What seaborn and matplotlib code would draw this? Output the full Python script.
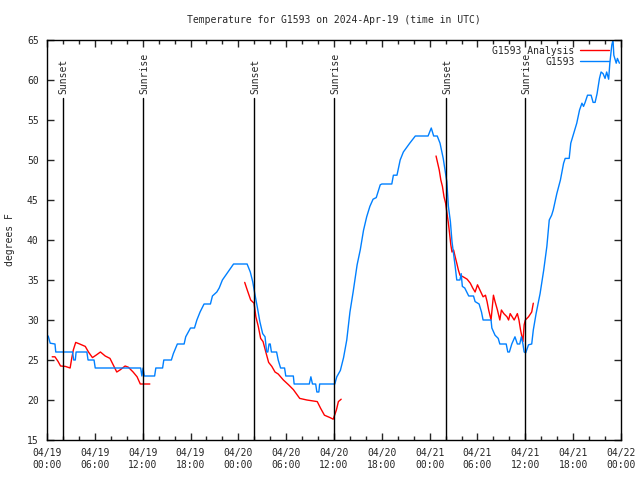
import matplotlib
matplotlib.use("Agg")
import matplotlib.pyplot as plt
import seaborn as sns
import pandas as pd

# hours since 04/19 00:00 UTC
obs_hours = [0.15, 0.4, 1.0, 1.1, 3.2, 3.35, 3.55, 3.65, 5.0, 5.15, 5.9, 6.05, 11.75, 11.9, 12.05,
             12.2, 13.5, 13.65, 14.5, 14.65, 15.6, 15.85, 16.35, 17.2, 17.4, 18.0, 18.5, 18.8, 19.2,
             19.7, 20.5, 20.75, 21.3, 21.6, 22.0, 22.7, 23.4, 25.1, 25.5, 25.8, 26.1, 26.4, 26.7,
             27.05, 27.35, 27.55, 27.7, 27.85, 28.0, 28.15, 28.8, 29.0, 29.3, 29.8, 29.95, 30.9,
             31.0, 32.9, 33.1, 33.3, 33.7, 33.85, 34.1, 34.2, 36.1, 36.35, 36.8, 37.2, 37.6, 38.0,
             38.4, 38.9, 39.3, 39.7, 40.1, 40.5, 40.9, 41.3, 41.8, 42.0, 43.25, 43.45, 43.9, 44.3,
             44.7, 45.5, 46.2, 47.8, 48.2, 48.5, 48.95, 49.3, 49.7, 50.15, 50.35, 50.6, 50.8, 51.0,
             51.2, 51.4, 51.8, 51.95, 52.1, 52.4, 52.9, 53.5, 53.7, 54.2, 54.5, 54.7, 55.7, 55.8,
             56.2, 56.6, 56.8, 57.6, 57.8, 58.0, 58.3, 58.7, 59.0, 59.3, 59.5, 59.7, 59.85, 60.05,
             60.4, 60.8, 61.0, 61.35, 61.85, 62.3, 62.7, 63.0, 63.3, 63.5, 63.95, 64.4, 64.8, 65.0,
             65.5, 65.7, 66.0, 66.45, 66.8, 67.1, 67.3, 67.5, 67.8, 68.25, 68.5, 68.75, 69.0, 69.3,
             69.5, 69.75, 70.0, 70.2, 70.45, 70.6, 70.85, 71.0, 71.1, 71.4, 71.55, 71.8]
obs_temp = [28.0, 27.1, 27.0, 26.0, 26.0, 25.0, 25.0, 26.0, 26.0, 25.0, 25.0, 24.0, 24.0, 23.0, 24.0,
            23.0, 23.0, 24.0, 24.0, 25.0, 25.0, 25.8, 27.0, 27.0, 27.9, 29.0, 29.0, 30.0, 31.0,
            32.0, 32.0, 33.0, 33.5, 34.0, 35.0, 36.0, 37.0, 37.0, 36.0, 34.8, 33.1, 31.5, 29.8,
            28.3, 27.9, 26.0, 26.0, 27.0, 27.0, 26.0, 26.0, 25.0, 24.0, 24.0, 23.0, 23.0,
            22.0, 22.0, 22.9, 22.0, 22.0, 21.0, 21.0, 22.0, 22.0, 22.9, 23.7, 25.3, 27.5, 31.0,
            33.5, 36.9, 38.8, 41.2, 42.9, 44.2, 45.1, 45.3, 46.9, 47.0, 47.0, 48.1, 48.1, 50.0,
            51.0, 52.1, 53.0, 53.0, 54.0, 53.0, 53.0, 52.1, 50.2, 47.3, 44.2, 42.3, 39.8, 38.3,
            36.7, 35.0, 35.0, 35.8, 34.2, 34.0, 33.0, 33.0, 32.3, 32.0, 31.0, 30.0, 30.0, 29.0,
            28.1, 27.7, 27.0, 27.0, 26.0, 26.0, 27.0, 27.9, 27.0, 27.0, 27.9, 27.0, 26.0, 25.9,
            26.9, 27.0, 28.75, 30.8, 33.3, 36.2, 39.2, 42.5, 43.1, 43.75, 45.8, 47.5, 49.6, 50.2,
            50.2, 52.1, 53.1, 54.6, 56.25, 57.1, 56.7, 57.2, 58.1, 58.1, 57.2, 57.2, 58.3, 60.2,
            61.0, 60.8, 60.2, 61.0, 60.1, 62.1, 64.4, 65.0, 63.1, 62.1, 62.7, 62.1]

ana_hours = [0.65, 1.0, 1.4, 1.7, 2.3, 2.9, 3.1, 3.3, 3.6, 4.1, 4.8, 5.2, 5.7, 6.15, 6.7, 7.3, 7.9,
             8.3, 8.75, 9.15, 9.8, 10.2, 10.8, 11.3, 11.7, 12.9,
             24.8, 25.1, 25.55, 25.97, 26.2, 26.5, 26.8, 27.1, 27.5, 27.8, 28.2, 28.6, 29.0, 29.65,
             30.3, 30.9, 31.7, 32.6, 33.9, 34.3, 34.8, 35.5, 35.9, 36.3, 36.55, 36.9,
             48.8, 49.2, 49.4, 49.6, 49.8, 50.0, 50.15, 50.35, 50.5, 50.65, 50.8, 51.0, 51.2, 51.4,
             51.6, 51.8, 52.2, 52.7, 53.1, 53.4, 53.7, 54.0, 54.3, 54.7, 55.0, 55.2, 55.4, 55.7,
             56.0, 56.2, 56.5, 56.8, 57.0, 57.3, 57.7, 57.9, 58.1, 58.6, 59.0, 59.2, 59.4, 59.7,
             59.85, 60.0, 60.4, 60.8, 61.0]
ana_temp = [25.4, 25.4, 24.8, 24.25, 24.2, 24.0, 25.2, 26.25, 27.2, 27.0, 26.7, 26.0, 25.3, 25.6,
            26.0, 25.5, 25.2, 24.4, 23.5, 23.75, 24.25, 24.1, 23.5, 22.9, 22.0, 22.0,
            34.7, 33.8, 32.5, 32.1, 30.4, 29.2, 27.7, 27.3, 25.8, 24.7, 24.2, 23.5, 23.25, 22.5,
            21.9, 21.3, 20.2, 20.0, 19.8, 19.0, 18.1, 17.8, 17.6, 18.75, 19.8, 20.1,
            50.5, 48.75, 47.5, 46.7, 45.4, 44.6, 43.5, 42.1, 40.8, 39.4, 38.5, 38.75, 37.9, 37.1,
            36.25, 35.6, 35.4, 35.1, 34.6, 34.0, 33.5, 34.4, 33.75, 32.9, 33.1, 32.3, 31.25, 30.0,
            33.1, 32.3, 31.25, 30.0, 31.25, 30.8, 30.4, 30.0, 30.8, 30.0, 30.8, 30.0, 28.75, 27.3,
            29.4, 30.0, 30.4, 31.0, 32.1]
ana_segment = [0] * 26 + [1] * 26 + [2] * 47

sunset_hours = [1.95, 26.0, 50.05]
sunrise_hours = [12.1, 36.05, 60.0]

tick_hours = [0, 6, 12, 18, 24, 30, 36, 42, 48, 54, 60, 66, 72]
tick_labels = ["04/19\n00:00", "04/19\n06:00", "04/19\n12:00", "04/19\n18:00",
               "04/20\n00:00", "04/20\n06:00", "04/20\n12:00", "04/20\n18:00",
               "04/21\n00:00", "04/21\n06:00", "04/21\n12:00", "04/21\n18:00",
               "04/22\n00:00"]

obs = pd.DataFrame({"hour": obs_hours, "temp": obs_temp})
ana = pd.DataFrame({"hour": ana_hours, "temp": ana_temp, "seg": ana_segment})

sns.set_style("ticks")
plt.rcParams["font.family"] = ["DejaVu Sans Mono"]
plt.rcParams["font.size"] = 7

fig = plt.figure(figsize=(6.4, 4.8), dpi=100)
ax = fig.add_axes([47 / 640, 40 / 480, 574 / 640, 400 / 480])

for i, (seg, d) in enumerate(ana.groupby("seg")):
    sns.lineplot(data=d, x="hour", y="temp", ax=ax, color="#ff0000", linewidth=1,
                 label="G1593 Analysis" if i == 0 else None)
sns.lineplot(data=obs, x="hour", y="temp", ax=ax, color="#0080ff", linewidth=1, label="G1593")

for h in sunset_hours:
    ax.plot([h, h], [15, 57.8], color="black", linewidth=1)
    ax.text(h + 0.15, 58.3, "Sunset", rotation=90, ha="center", va="bottom", fontsize=7)
for h in sunrise_hours:
    ax.plot([h, h], [15, 57.8], color="black", linewidth=1)
    ax.text(h + 0.15, 58.3, "Sunrise", rotation=90, ha="center", va="bottom", fontsize=7)

ax.set_xlim(0, 72)
ax.set_ylim(15, 65)
ax.set_xticks(tick_hours)
ax.set_xticklabels(tick_labels)
ax.set_xticks(range(0, 73, 2), minor=True)
ax.set_yticks(range(15, 66, 5))
ax.tick_params(which="both", direction="in", top=True, right=True, width=1)
ax.tick_params(which="major", length=5, pad=6)
ax.tick_params(which="minor", length=3)
for s in ax.spines.values():
    s.set_linewidth(1)
    s.set_color("black")

ax.set_xlabel("")
ax.set_ylabel("degrees F")
ax.yaxis.set_label_coords(-0.055, 0.5)
ax.set_title("Temperature for G1593 on 2024-Apr-19 (time in UTC)", pad=12, fontsize=7)

ax.legend(loc="upper right", bbox_to_anchor=(0.99, 1.0), frameon=False, markerfirst=False,
          handlelength=3.0, borderaxespad=0.2, labelspacing=0.1, handletextpad=0.6)

fig.savefig("out.png", dpi=100)
